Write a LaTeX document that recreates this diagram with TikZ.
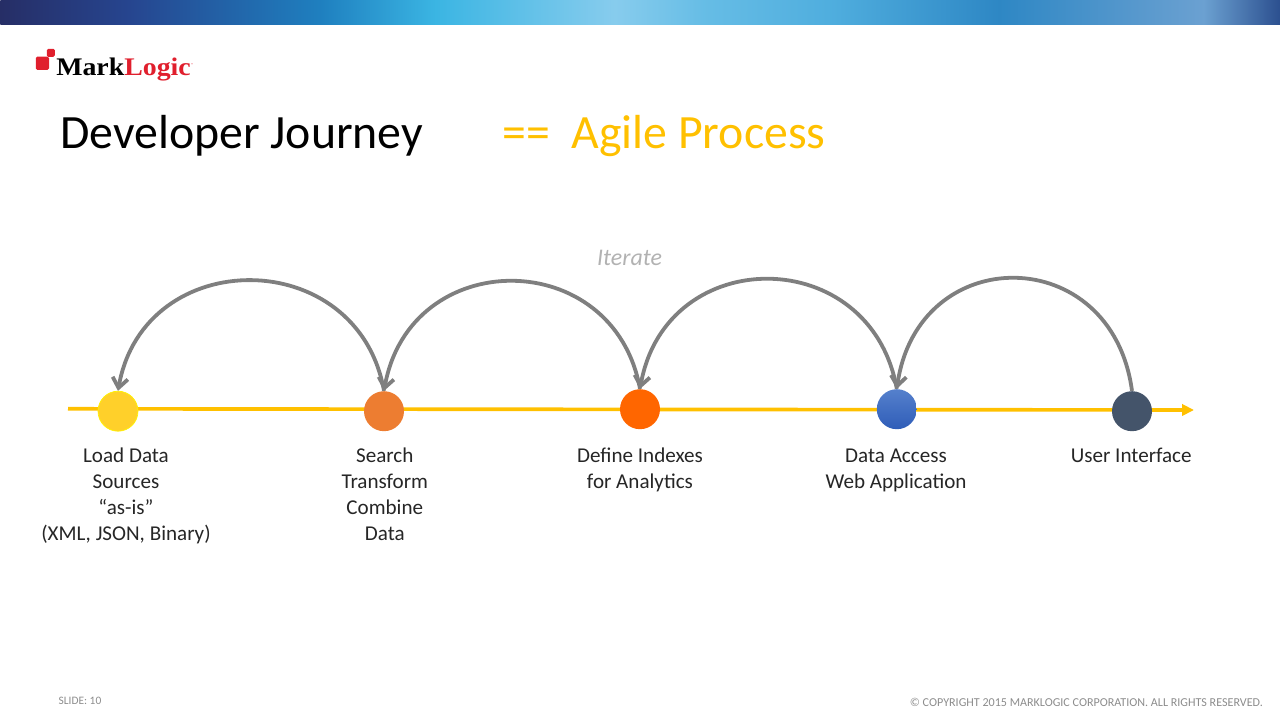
\documentclass[tikz,border=0pt]{standalone}
\usepackage{fontspec}
\setmainfont{Carlito}
\newfontfamily\logofont[FakeStretch=1.1]{Liberation Serif}
\usepackage{xcolor}
\usetikzlibrary{arrows.meta}
\definecolor{linegold}{HTML}{FFC000}
\definecolor{arcgray}{HTML}{7F7F7F}
\definecolor{logored}{HTML}{E01F2D}
\definecolor{loadfill}{HTML}{FFD02A}
\definecolor{searchfill}{HTML}{ED7D31}
\definecolor{definefill}{HTML}{FF6600}
\definecolor{accesstop}{HTML}{5580CC}
\definecolor{accessbot}{HTML}{2F5DB8}
\definecolor{uifill}{HTML}{44546A}
\pgfdeclarehorizontalshading{topbar}{100bp}{
  rgb(0bp)=(0.15,0.18,0.40);
  rgb(25bp)=(0.15,0.18,0.40);
  rgb(30bp)=(0.15,0.27,0.56);
  rgb(37.5bp)=(0.12,0.50,0.75);
  rgb(42bp)=(0.23,0.71,0.89);
  rgb(49bp)=(0.53,0.80,0.93);
  rgb(52.5bp)=(0.40,0.74,0.90);
  rgb(57.5bp)=(0.31,0.68,0.87);
  rgb(64bp)=(0.18,0.53,0.77);
  rgb(72bp)=(0.42,0.63,0.82);
  rgb(75bp)=(0.17,0.31,0.56);
  rgb(100bp)=(0.17,0.31,0.56)}
\tikzset{
  dot/.style={circle, minimum size=1cm, inner sep=0pt},
  caption/.style={align=center, font=\fontsize{15}{18.4}\selectfont, text=black!85},
  backarc/.style={draw=arcgray, line width=2.7pt, -{Straight Barb[length=7pt,width=11pt]}},
  smallprint/.style={font=\fontsize{8.6}{10}\selectfont, text=black!45},
}
\begin{document}
\begin{tikzpicture}
    \useasboundingbox (0,0) rectangle (32,18);

    \node[shading=topbar, minimum width=32cm, minimum height=0.61cm, inner sep=0pt, anchor=north west] (bar) at (0,18) {};

    % logo
    \node[fill=logored, rounded corners=1pt, minimum size=0.33cm, inner sep=0pt] (sq1) at (1.06,16.42) {};
    \node[fill=logored, rounded corners=1pt, minimum size=0.2cm, inner sep=0pt] (sq2) at (1.27,16.68) {};
    \node[anchor=west, inner sep=0pt, font=\logofont\bfseries\fontsize{18}{18}\selectfont] (logo) at (1.4,16.26) {Mark\textcolor{logored}{Logic}};
    \node[anchor=west, inner sep=0pt, text=logored, font=\fontsize{3}{3}\selectfont, yshift=3pt] (reg) at (logo.east) {®};

    % title
    \node[anchor=base west, inner sep=0pt, font=\fontsize{34}{40}\selectfont] (title) at (1.5,14.28) {Developer Journey};
    \node[anchor=base west, inner sep=0pt, text=linegold, font=\fontsize{34}{40}\selectfont] (agile) at (12.55,14.28) {==\ \ Agile Process};

    \node[font=\itshape\fontsize{17}{20}\selectfont, text=black!30] (iterate) at (15.74,11.56) {Iterate};

    % timeline
    \coordinate (start) at (1.7,7.78);
    \coordinate (end) at (29.85,7.75);
    \draw[draw=linegold, line width=2.6pt, -{Triangle[length=8.5pt,width=8pt]}] (start) -- (end);

    \node[dot, fill=loadfill, draw=yellow, line width=0.5pt] (load) at (2.95,7.72) {};
    \node[dot, fill=searchfill] (search) at (9.6,7.72) {};
    \node[dot, fill=definefill] (define) at (16,7.77) {};
    \node[dot, top color=accesstop, bottom color=accessbot] (access) at (22.42,7.77) {};
    \node[dot, fill=uifill] (ui) at (28.3,7.72) {};

    % iterate arcs
    \draw[backarc] (search.north) .. controls (8.95,11.9) and (3.6,11.9) .. (load.north);
    \draw[backarc] (define.north) .. controls (15.35,11.87) and (10.25,11.87) .. (search.north);
    \draw[backarc] (access.north) .. controls (21.77,11.93) and (16.65,11.93) .. (define.north);
    \draw[backarc] (ui.north) .. controls (27.8,11.97) and (22.95,11.97) .. (access.north);

    % captions
    \node[caption] (loadtxt) at (3.15,5.6) {Load Data\\ Sources\\ “as-is”\\ (XML, JSON, Binary)};
    \node[caption] (searchtxt) at (9.62,5.65) {Search\\Transform\\Combine\\Data};
    \node[caption] (definetxt) at (16,6.25) {Define Indexes\\for Analytics};
    \node[caption] (accesstxt) at (22.4,6.23) {Data Access\\Web Application};
    \node[caption] (uitxt) at (28.28,6.62) {User Interface};

    \node[smallprint, anchor=west, inner sep=0pt, font=\fontsize{8.1}{10}\selectfont] (slide) at (1.46,0.47) {SLIDE: 10};
    \node[smallprint, anchor=east, inner sep=0pt] (copy) at (31.58,0.44) {© COPYRIGHT 2015 MARKLOGIC CORPORATION. ALL RIGHTS RESERVED.};
\end{tikzpicture}
\end{document}
